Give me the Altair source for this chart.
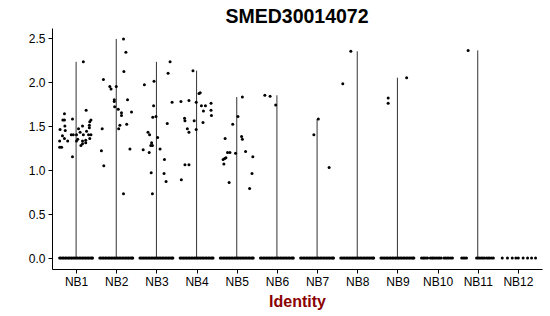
import altair as alt
import pandas as pd

groups = ["NB1", "NB2", "NB3", "NB4", "NB5", "NB6", "NB7", "NB8", "NB9", "NB10", "NB11", "NB12"]

# non-zero expression values and their horizontal jitter (in category units)
nb1_expr = [2.23, 1.64, 1.57, 1.57, 1.58, 1.68, 1.57, 1.55, 1.50, 1.51, 1.48, 1.50, 1.47, 1.46, 1.45, 1.44,
            1.43, 1.40, 1.40, 1.39, 1.40, 1.40, 1.40, 1.40, 1.36, 1.33, 1.33, 1.35, 1.33, 1.34, 1.36, 1.33,
            1.28, 1.30, 1.31, 1.26, 1.26, 1.15]
nb1_jit = [0.18, -0.29, -0.33, -0.29, -0.09, 0.25, 0.37, 0.34, -0.28, 0.33, 0.33, 0.16, 0.06, -0.40, -0.27, 0.26,
           0.10, -0.12, -0.07, -0.34, 0.01, 0.18, 0.31, 0.37, -0.29, -0.21, 0.01, 0.04, 0.16, 0.24, 0.34, -0.41,
           0.12, 0.16, 0.24, -0.41, -0.36, -0.09]
nb2_expr = [2.49, 2.34, 2.03, 2.12, 1.95, 1.92, 1.95, 1.80, 1.78, 1.80, 1.72, 1.69, 1.65, 1.62, 1.66, 1.52,
            1.51, 1.47, 1.47, 1.24, 1.22, 1.05, 0.73]
nb2_jit = [0.18, 0.24, -0.32, 0.19, -0.16, -0.13, 0.00, -0.05, -0.05, 0.28, -0.04, 0.05, 0.13, 0.13, 0.38, 0.26,
           0.09, 0.06, -0.35, 0.34, -0.37, -0.31, 0.18]
nb3_expr = [2.23, 2.10, 1.97, 2.01, 1.53, 1.73, 1.60, 1.61, 1.43, 1.40, 1.37, 1.31, 1.28, 1.28, 1.24, 1.23,
            1.20, 1.12, 0.97, 0.96, 0.87, 0.73, 1.77]
nb3_jit = [0.34, 0.29, -0.30, -0.06, 0.27, -0.07, -0.09, -0.01, -0.21, -0.17, 0.03, -0.12, -0.14, -0.10, 0.09, -0.33,
           -0.18, 0.20, -0.13, 0.19, 0.24, -0.10, 0.39]
nb4_expr = [2.13, 1.87, 1.88, 1.78, 1.79, 1.77, 1.73, 1.73, 1.76, 1.67, 1.68, 1.62, 1.59, 1.56, 1.56, 1.54,
            1.47, 1.43, 1.46, 1.06, 1.06, 0.89]
nb4_jit = [-0.09, 0.06, 0.09, -0.39, -0.19, -0.01, 0.12, 0.22, 0.36, 0.17, 0.36, 0.37, -0.30, -0.29, -0.06, 0.16,
           -0.23, -0.19, -0.01, -0.29, -0.19, -0.38]
nb5_expr = [1.83, 1.61, 1.52, 1.36, 1.38, 1.35, 1.20, 1.20, 1.19, 1.21, 1.14, 1.13, 1.12, 1.07, 1.15, 0.96,
            0.86, 0.79]
nb5_jit = [0.14, 0.03, -0.10, -0.29, 0.12, 0.14, -0.23, -0.17, -0.03, 0.22, -0.27, -0.30, -0.34, -0.32, 0.40, 0.38,
           -0.19, 0.32]
nb6_expr = [1.85, 1.84, 1.74]
nb6_jit = [-0.30, -0.17, -0.03]
nb7_expr = [1.58, 1.40, 1.03]
nb7_jit = [0.03, -0.08, 0.30]
nb8_expr = [2.35, 1.98]
nb8_jit = [-0.16, -0.36]
nb9_expr = [2.05, 1.82, 1.76]
nb9_jit = [0.23, -0.23, -0.23]
nb10_expr = []
nb10_jit = []
nb11_expr = [2.36]
nb11_jit = [-0.24]
nb12_expr = []
nb12_jit = []

# jitter of the cells with zero expression
zero_jit_dense = [-0.41, -0.38, -0.34, -0.31, -0.27, -0.24, -0.20, -0.17, -0.13, -0.10, -0.06, -0.03,
                  0.01, 0.04, 0.08, 0.11, 0.15, 0.18, 0.22, 0.25, 0.29, 0.32, 0.36, 0.39, 0.41]
zero_jit_nb10 = [-0.40, -0.36, -0.33, -0.29, -0.25, -0.18, -0.14, -0.11, -0.07, -0.03, 0.01, 0.05, 0.09,
                 0.16, 0.20, 0.24, 0.28, 0.33, 0.37]
zero_jit_nb11 = [-0.40, -0.36, -0.32, -0.28, -0.03, 0.01, 0.05, 0.09, 0.13, 0.17, 0.22, 0.26, 0.30, 0.35, 0.39]
zero_jit_nb12 = [-0.39, -0.26, -0.14, -0.05, 0.01, 0.13, 0.24, 0.34, 0.44]

expr_lists = [nb1_expr, nb2_expr, nb3_expr, nb4_expr, nb5_expr, nb6_expr, nb7_expr, nb8_expr, nb9_expr,
              nb10_expr, nb11_expr, nb12_expr]
jit_lists = [nb1_jit, nb2_jit, nb3_jit, nb4_jit, nb5_jit, nb6_jit, nb7_jit, nb8_jit, nb9_jit,
             nb10_jit, nb11_jit, nb12_jit]
zero_lists = [zero_jit_dense] * 9 + [zero_jit_nb10, zero_jit_nb11, zero_jit_nb12]

rows = []
for i, g in enumerate(groups):
    for j in zero_lists[i]:
        rows.append({"group": g, "gidx": i + 1, "value": 0.0, "jit": j})
    for v, j in zip(expr_lists[i], jit_lists[i]):
        rows.append({"group": g, "gidx": i + 1, "value": v, "jit": j})
df = pd.DataFrame(rows)

FONT = "Liberation Sans"
x_scale = alt.Scale(domain=[0.4, 12.6], nice=False, zero=False)
y_scale = alt.Scale(domain=[-0.1245, 2.6145], nice=False, zero=False)

x_axis = alt.Axis(values=list(range(1, 13)), labelExpr="'NB' + datum.value", title="Identity",
                  titleColor="#8B0000", titleFontSize=16, titleFontWeight="bold", titleFont=FONT,
                  titleY=37, titleBaseline="alphabetic",
                  labelFont=FONT, labelFontSize=12, labelColor="black", labelPadding=3,
                  tickColor="black", tickSize=4, tickWidth=1, domainColor="black", domainWidth=1,
                  grid=False, labelOverlap=False)
y_axis = alt.Axis(values=[0, 0.5, 1.0, 1.5, 2.0, 2.5], format=".1f", title="",
                  labelFont=FONT, labelFontSize=12, labelColor="black", labelPadding=3,
                  tickColor="black", tickSize=4, tickWidth=1, domainColor="black", domainWidth=1,
                  grid=False)

base = alt.Chart(df)

rules = base.transform_aggregate(
    vmin="min(value)", vmax="max(value)", groupby=["gidx"]
).transform_filter("datum.vmax > 0").mark_rule(color="#333333", strokeWidth=1).encode(
    x=alt.X("gidx:Q", scale=x_scale, axis=x_axis),
    y=alt.Y("vmin:Q", scale=y_scale, axis=y_axis),
    y2="vmax:Q",
)

points = base.transform_calculate(pos="datum.gidx + datum.jit").mark_circle(
    size=9, color="black", opacity=1
).encode(
    x=alt.X("pos:Q", scale=x_scale, axis=x_axis),
    y=alt.Y("value:Q", scale=y_scale, axis=y_axis),
)

chart = alt.layer(rules, points).properties(
    width=490,
    height=241,
    autosize=alt.AutoSizeParams(type="none"),
    padding={"left": 52, "top": 28, "right": 8, "bottom": 47},
    title=alt.TitleParams("SMED30014072", fontSize=19.5, fontWeight="bold", font=FONT, anchor="middle",
                          frame="group", offset=6, baseline="alphabetic", dy=20, color="black"),
).configure_view(strokeWidth=0)

chart.save("out.html", embed_options={"renderer": "svg", "actions": False})
